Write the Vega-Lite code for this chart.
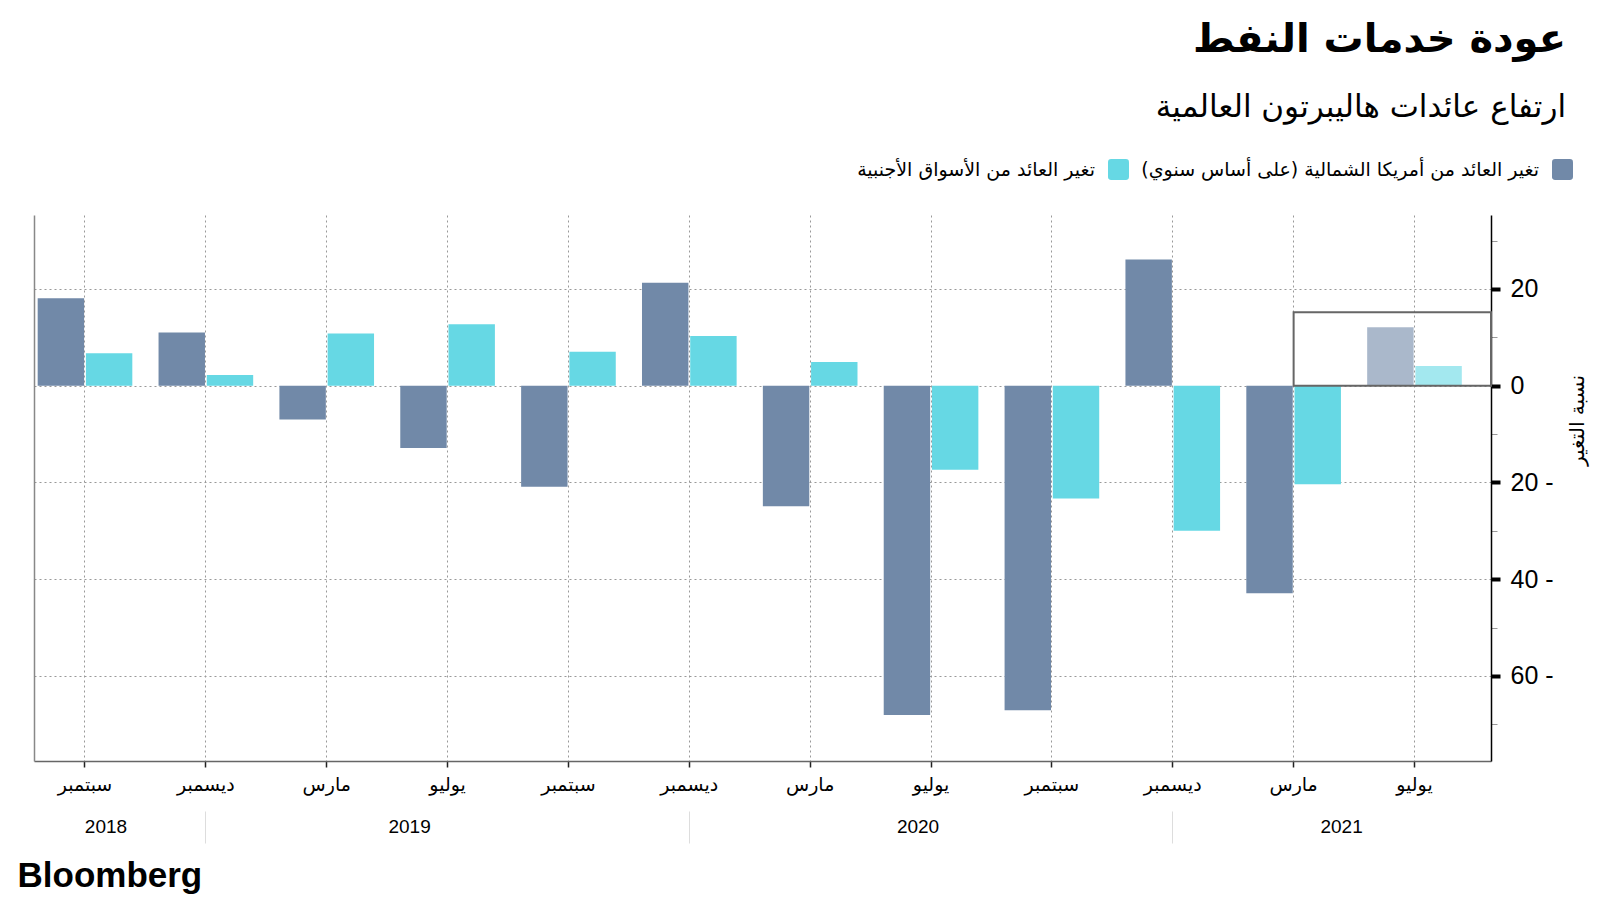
{
  "$schema": "https://vega.github.io/schema/vega-lite/v6.json",
  "width": 1457,
  "height": 546,
  "autosize": {"type": "none"},
  "padding": {"left": 34, "top": 215, "right": 109, "bottom": 139},
  "background": "white",
  "config": {"view": {"stroke": null}, "font": "DejaVu Sans"},
  "title": {
    "text": "عودة خدمات النفط",
    "subtitle": "ارتفاع عائدات هاليبرتون العالمية",
    "anchor": "end",
    "frame": "group",
    "dx": 75,
    "offset": 36,
    "font": "DejaVu Sans",
    "fontSize": 40,
    "fontWeight": "bold",
    "color": "black",
    "subtitleFont": "DejaVu Sans",
    "subtitleFontSize": 31,
    "subtitleColor": "black",
    "subtitlePadding": 33
  },
  "layer": [
    {
      "data": {
        "values": [
          {"period": "سبتمبر 2018", "series": "تغير العائد من أمريكا الشمالية (على أساس سنوي)", "value": 18.1},
          {"period": "سبتمبر 2018", "series": "تغير العائد من الأسواق الأجنبية", "value": 6.7},
          {"period": "ديسمبر 2018", "series": "تغير العائد من أمريكا الشمالية (على أساس سنوي)", "value": 11.0},
          {"period": "ديسمبر 2018", "series": "تغير العائد من الأسواق الأجنبية", "value": 2.2},
          {"period": "مارس 2019", "series": "تغير العائد من أمريكا الشمالية (على أساس سنوي)", "value": -7.0},
          {"period": "مارس 2019", "series": "تغير العائد من الأسواق الأجنبية", "value": 10.8},
          {"period": "يوليو 2019", "series": "تغير العائد من أمريكا الشمالية (على أساس سنوي)", "value": -12.9},
          {"period": "يوليو 2019", "series": "تغير العائد من الأسواق الأجنبية", "value": 12.7},
          {"period": "سبتمبر 2019", "series": "تغير العائد من أمريكا الشمالية (على أساس سنوي)", "value": -20.9},
          {"period": "سبتمبر 2019", "series": "تغير العائد من الأسواق الأجنبية", "value": 7.0},
          {"period": "ديسمبر 2019", "series": "تغير العائد من أمريكا الشمالية (على أساس سنوي)", "value": 21.3},
          {"period": "ديسمبر 2019", "series": "تغير العائد من الأسواق الأجنبية", "value": 10.3},
          {"period": "مارس 2020", "series": "تغير العائد من أمريكا الشمالية (على أساس سنوي)", "value": -24.9},
          {"period": "مارس 2020", "series": "تغير العائد من الأسواق الأجنبية", "value": 4.9},
          {"period": "يوليو 2020", "series": "تغير العائد من أمريكا الشمالية (على أساس سنوي)", "value": -68.1},
          {"period": "يوليو 2020", "series": "تغير العائد من الأسواق الأجنبية", "value": -17.4},
          {"period": "سبتمبر 2020", "series": "تغير العائد من أمريكا الشمالية (على أساس سنوي)", "value": -67.1},
          {"period": "سبتمبر 2020", "series": "تغير العائد من الأسواق الأجنبية", "value": -23.3},
          {"period": "ديسمبر 2020", "series": "تغير العائد من أمريكا الشمالية (على أساس سنوي)", "value": 26.1},
          {"period": "ديسمبر 2020", "series": "تغير العائد من الأسواق الأجنبية", "value": -30.0},
          {"period": "مارس 2021", "series": "تغير العائد من أمريكا الشمالية (على أساس سنوي)", "value": -42.9},
          {"period": "مارس 2021", "series": "تغير العائد من الأسواق الأجنبية", "value": -20.4},
          {"period": "يوليو 2021", "series": "تغير العائد من أمريكا الشمالية (على أساس سنوي)", "value": 12.1},
          {"period": "يوليو 2021", "series": "تغير العائد من الأسواق الأجنبية", "value": 4.1}
        ]
      },
      "mark": {"type": "bar"},
      "encoding": {
        "x": {
          "field": "period",
          "type": "nominal",
          "sort": null,
          "scale": {"paddingInner": 0.217, "paddingOuter": 0.136, "align": 0.112},
          "axis": {
            "title": null,
            "labelExpr": "split(datum.label, ' ')[0]",
            "labelAngle": 0,
            "labelFont": "DejaVu Sans",
            "labelFontSize": 19,
            "labelColor": "black",
            "labelPadding": 8,
            "domainColor": "#666",
            "domainWidth": 1.5,
            "tickColor": "#222",
            "tickSize": 6,
            "tickWidth": 1.5,
            "grid": true,
            "gridColor": "#999",
            "gridDash": [2, 3],
            "gridWidth": 1
          }
        },
        "xOffset": {
          "field": "series",
          "type": "nominal",
          "sort": ["تغير العائد من أمريكا الشمالية (على أساس سنوي)", "تغير العائد من الأسواق الأجنبية"],
          "scale": {"paddingInner": 0.037}
        },
        "y": {
          "field": "value",
          "type": "quantitative",
          "scale": {"domain": [-77.6, 35.3], "nice": false, "zero": false},
          "axis": {
            "orient": "right",
            "title": "نسبة التغير",
            "values": [-70, -60, -50, -40, -30, -20, -10, 0, 10, 20, 30],
            "labelExpr": "datum.value % 20 == 0 ? (datum.value < 0 ? abs(datum.value) + ' -' : '' + datum.value) : ''",
            "labelFont": "Liberation Sans",
            "labelFontSize": 25,
            "labelColor": "black",
            "labelPadding": 10,
            "domainColor": "black",
            "domainWidth": 1.5,
            "tickSize": {"condition": {"test": "datum.value % 20 == 0", "value": 9}, "value": 6},
            "tickColor": {"condition": {"test": "datum.value % 20 == 0", "value": "black"}, "value": "#999"},
            "tickWidth": {"condition": {"test": "datum.value % 20 == 0", "value": 4}, "value": 1},
            "grid": true,
            "gridColor": "#999",
            "gridDash": [2, 3],
            "gridWidth": 1,
            "gridOpacity": {"condition": {"test": "datum.value % 20 == 0", "value": 1}, "value": 0},
            "titleFont": "DejaVu Sans",
            "titleFontSize": 20,
            "titleFontWeight": "normal",
            "titleColor": "black",
            "titleAngle": 270,
            "titleX": 86,
            "titleY": 205,
            "titleAlign": "center",
            "titleBaseline": "middle"
          }
        },
        "color": {
          "field": "series",
          "type": "nominal",
          "scale": {
            "domain": ["تغير العائد من الأسواق الأجنبية", "تغير العائد من أمريكا الشمالية (على أساس سنوي)"],
            "range": ["#66d8e4", "#7189a8"]
          },
          "legend": {
            "orient": "none",
            "legendX": 1074,
            "legendY": -56,
            "direction": "horizontal",
            "title": null,
            "labelFont": "DejaVu Sans",
            "labelFontSize": 19,
            "labelColor": "black",
            "labelAlign": "right",
            "labelOffset": -34,
            "labelLimit": 600,
            "symbolType": "M-0.7,-1H0.7Q1,-1,1,-0.7V0.7Q1,1,0.7,1H-0.7Q-1,1,-1,0.7V-0.7Q-1,-1,-0.7,-1Z",
            "symbolSize": 441,
            "symbolStrokeWidth": 0,
            "symbolOpacity": 1,
            "columnPadding": 12
          }
        },
        "opacity": {"condition": {"test": "datum.period == 'يوليو 2021'", "value": 0.6}, "value": 1}
      }
    },
    {
      "data": {"values": [{}]},
      "mark": {"type": "rect", "fill": "white", "fillOpacity": 0, "stroke": "#666", "strokeWidth": 2},
      "encoding": {
        "x": {
          "datum": "مارس 2021",
          "type": "nominal",
          "bandPosition": 0.5,
          "axis": {
            "orient": "bottom",
            "offset": 50,
            "domain": false,
            "grid": false,
            "ticks": true,
            "tickSize": 32,
            "tickWidth": 1,
            "tickColor": "#ddd",
            "tickOpacity": {"condition": {"test": "indexof(datum.value, 'ديسمبر') == 0", "value": 1}, "value": 0},
            "labelExpr": "datum.value == 'سبتمبر 2018' ? '2018' : datum.value == 'يوليو 2019' ? '2019' : datum.value == 'يوليو 2020' ? '2020' : datum.value == 'مارس 2021' ? '2021' : ''",
            "labelAngle": 0,
            "labelFont": "Liberation Sans",
            "labelFontSize": 19,
            "labelColor": "black",
            "labelPadding": -26,
            "labelOffset": {"condition": [
              {"test": "datum.value == 'سبتمبر 2018'", "value": 21},
              {"test": "datum.value == 'يوليو 2019'", "value": -38},
              {"test": "datum.value == 'يوليو 2020'", "value": -13},
              {"test": "datum.value == 'مارس 2021'", "value": 48}
            ], "value": 0},
            "title": "Bloomberg",
            "titleFont": "Liberation Sans",
            "titleFontSize": 35,
            "titleFontWeight": "bold",
            "titleColor": "black",
            "titleAnchor": "start",
            "titleAlign": "left",
            "titleBaseline": "middle",
            "titleX": -17,
            "titleY": 64
          }
        },
        "x2": {"value": {"expr": "width"}},
        "y": {
          "datum": 15.2,
          "type": "quantitative",
          "axis": {
            "orient": "left",
            "title": null,
            "labels": false,
            "ticks": false,
            "grid": false,
            "domainColor": "#888",
            "domainWidth": 1.5
          }
        },
        "y2": {"datum": 0}
      }
    }
  ],
  "resolve": {"axis": {"x": "independent", "y": "independent"}}
}
